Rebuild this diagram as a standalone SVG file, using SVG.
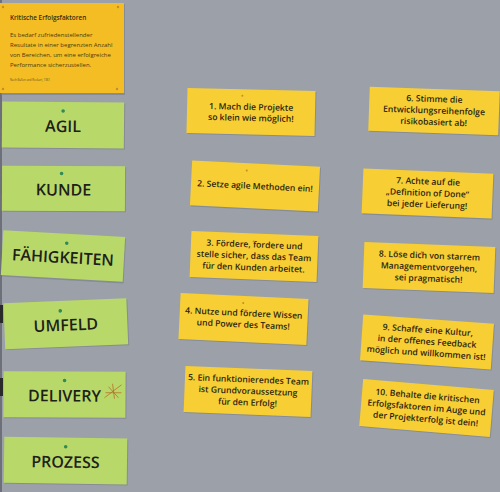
<svg xmlns="http://www.w3.org/2000/svg" width="500" height="492" viewBox="0 0 500 492">
<style>
.bg{fill:#9ca0a9}
.shadow{fill:#7f838c;opacity:.7}
.yc{fill:#f7cf35}
.oc{fill:#f4bd24}
.gc{fill:#b8d96a}
.gt{font-family:"Open Sans","DejaVu Sans",sans-serif;font-weight:600;font-size:16px;fill:#1d2117;text-anchor:middle}
.yt{font-family:"Open Sans","DejaVu Sans",sans-serif;font-weight:600;font-size:8.6px;fill:#2c2410;text-anchor:middle}
.ht{font-family:"Open Sans","DejaVu Sans",sans-serif;font-weight:600;font-size:6.4px;fill:#3a2d0c}
.bt{font-family:"Open Sans","DejaVu Sans",sans-serif;font-size:6px;fill:#4a3a12}
.ct{font-family:"Open Sans","DejaVu Sans",sans-serif;font-size:2.8px;fill:#6a5420}
.pin{fill:#2f8a55}
.opin{fill:#c98a30}
</style>
<rect class="bg" x="0" y="0" width="500" height="492"/>
<rect x="0" y="0" width="2" height="492" fill="#6d7078"/>
<rect x="0" y="305" width="3" height="18" fill="#2a2a2a"/>
<rect x="0" y="378" width="3" height="18" fill="#2a2a2a"/>

<g id="header">
<rect class="shadow" x="1" y="4" width="124" height="91"/>
<rect class="oc" x="0" y="3" width="124" height="90"/>
<circle class="opin" cx="3" cy="7" r="1.2"/><circle class="opin" cx="118" cy="7" r="1.2"/>
<circle class="opin" cx="3" cy="89" r="1.2"/><circle class="opin" cx="117" cy="89" r="1.2"/>
<text class="ht" x="10" y="20">Kritische Erfolgsfaktoren</text>
<text class="bt" x="10" y="37">Es bedarf zufriedenstellender</text>
<text class="bt" x="10" y="47">Resultate in einer begrenzten Anzahl</text>
<text class="bt" x="10" y="57">von Bereichen, um eine erfolgreiche</text>
<text class="bt" x="10" y="67">Performance sicherzustellen.</text>
<text class="ct" x="10" y="81">Nach Bullen und Rockart, 1981</text>
</g>

<g id="agil" transform="translate(63,125) rotate(0.5)">
<rect class="shadow" x="-60" y="-22" width="122" height="46"/>
<rect class="gc" x="-61" y="-23" width="122" height="46"/>
<circle class="pin" cx="0" cy="-14" r="1.8"/>
<text class="gt" x="0" y="7">AGIL</text>
</g>
<g id="kunde" transform="translate(63.5,188.5) rotate(0.3)">
<rect class="shadow" x="-60.5" y="-21.5" width="123" height="45"/>
<rect class="gc" x="-61.5" y="-22.5" width="123" height="45"/>
<circle class="pin" cx="-2" cy="-15" r="1.8"/>
<text class="gt" x="0" y="7">KUNDE</text>
</g>
<g id="faehigkeiten" transform="translate(63,256) rotate(3.2)">
<rect class="shadow" x="-60" y="-21" width="122" height="45"/>
<rect class="gc" x="-61" y="-22.5" width="122" height="45"/>
<circle class="pin" cx="3" cy="-13" r="1.8"/>
<text class="gt" x="0" y="7">FÄHIGKEITEN</text>
</g>
<g id="umfeld" transform="translate(65.8,323.7) rotate(-2.3)">
<rect class="shadow" x="-60.5" y="-22" width="123" height="46"/>
<rect class="gc" x="-61.5" y="-23" width="123" height="46"/>
<circle class="pin" cx="-5" cy="-13" r="1.8"/>
<text class="gt" x="0" y="7">UMFELD</text>
</g>
<g id="delivery" transform="translate(64.5,394.5) rotate(0.3)">
<rect class="shadow" x="-60" y="-22" width="122" height="46"/>
<rect class="gc" x="-61" y="-23" width="122" height="46"/>
<circle class="pin" cx="0" cy="-14" r="1.8"/>
<text class="gt" x="0" y="7">DELIVERY</text>
<g stroke="#b5702a" stroke-width="0.8" fill="none">
<path d="M40,3 L57,-10 M44,-8 L54,3 M48,-11 L50,4 M41,-2 L57,-2"/>
</g>
</g>
<g id="prozess" transform="translate(65.5,460.7) rotate(0.8)">
<rect class="shadow" x="-60.5" y="-22" width="123" height="46"/>
<rect class="gc" x="-61.5" y="-23" width="123" height="46"/>
<circle class="pin" cx="0" cy="-14" r="1.8"/>
<text class="gt" x="0" y="7">PROZESS</text>
</g>

<g id="card1" transform="translate(251,112) rotate(1.3)">
<rect class="shadow" x="-63" y="-21.5" width="128" height="45"/>
<rect class="yc" x="-64" y="-22.5" width="128" height="45"/>
<circle class="opin" cx="-9" cy="-16" r="1"/>
<text class="yt" x="0" y="-2">1. Mach die Projekte</text>
<text class="yt" x="0" y="9">so klein wie möglich!</text>
</g>
<g id="card2" transform="translate(255,186) rotate(2.8)">
<rect class="shadow" x="-63" y="-21.5" width="128" height="45"/>
<rect class="yc" x="-64" y="-22.5" width="128" height="45"/>
<circle class="opin" cx="-9" cy="-15" r="1"/>
<text class="yt" x="0" y="3">2. Setze agile Methoden ein!</text>
</g>
<g id="card3" transform="translate(254,256.5) rotate(2.3)">
<rect class="shadow" x="-62.5" y="-22" width="127" height="46"/>
<rect class="yc" x="-63.5" y="-23" width="127" height="46"/>
<circle class="opin" cx="-1" cy="-15" r="0.9"/>
<text class="yt" x="0" y="-9">3. Fördere, fordere und</text>
<text class="yt" x="0" y="2.5">stelle sicher, dass das Team</text>
<text class="yt" x="0" y="14">für den Kunden arbeitet.</text>
</g>
<g id="card4" transform="translate(243.5,319) rotate(2.7)">
<rect class="shadow" x="-63" y="-22" width="128" height="46"/>
<rect class="yc" x="-64" y="-23" width="128" height="46"/>
<circle class="opin" cx="-1" cy="-16" r="1"/>
<text class="yt" x="0" y="-3">4. Nutze und fördere Wissen</text>
<text class="yt" x="0" y="8.5">und Power des Teams!</text>
</g>
<g id="card5" transform="translate(248,391.5) rotate(2.3)">
<rect class="shadow" x="-62.5" y="-22" width="127" height="46"/>
<rect class="yc" x="-63.5" y="-23" width="127" height="46"/>
<text class="yt" x="0" y="-9">5. Ein funktionierendes Team</text>
<text class="yt" x="0" y="2.5">ist Grundvoraussetzung</text>
<text class="yt" x="0" y="14">für den Erfolg!</text>
</g>

<g id="card6" transform="translate(434,111) rotate(2)">
<rect class="shadow" x="-64" y="-21" width="130" height="44"/>
<rect class="yc" x="-65" y="-22" width="130" height="44"/>
<text class="yt" x="0" y="-9">6. Stimme die</text>
<text class="yt" x="0" y="2.5">Entwicklungsreihenfolge</text>
<text class="yt" x="0" y="14">risikobasiert ab!</text>
</g>
<g id="card7" transform="translate(427.5,193.5) rotate(2.3)">
<rect class="shadow" x="-64" y="-21.5" width="130" height="45"/>
<rect class="yc" x="-65" y="-22.5" width="130" height="45"/>
<circle class="opin" cx="-1" cy="-11" r="0.9"/>
<text class="yt" x="0" y="-9">7. Achte auf die</text>
<text class="yt" x="0" y="2.5">„Definition of Done“</text>
<text class="yt" x="0" y="14">bei jeder Lieferung!</text>
</g>
<g id="card8" transform="translate(429,267.5) rotate(2.2)">
<rect class="shadow" x="-64.5" y="-22" width="131" height="46"/>
<rect class="yc" x="-65.5" y="-23" width="131" height="46"/>
<circle class="opin" cx="-8" cy="-15" r="0.9"/>
<text class="yt" x="0" y="-9">8. Löse dich von starrem</text>
<text class="yt" x="0" y="2.5">Managementvorgehen,</text>
<text class="yt" x="0" y="14">sei pragmatisch!</text>
</g>
<g id="card9" transform="translate(427,342) rotate(4)">
<rect class="shadow" x="-64.5" y="-22" width="131" height="46"/>
<rect class="yc" x="-65.5" y="-23" width="131" height="46"/>
<text class="yt" x="0" y="-9">9. Schaffe eine Kultur,</text>
<text class="yt" x="0" y="2.5">in der offenes Feedback</text>
<text class="yt" x="0" y="14">möglich und willkommen ist!</text>
</g>
<g id="card10" transform="translate(426.5,408) rotate(4.8)">
<rect class="shadow" x="-64.5" y="-22.5" width="131" height="47"/>
<rect class="yc" x="-65.5" y="-23.5" width="131" height="47"/>
<text class="yt" x="0" y="-9">10. Behalte die kritischen</text>
<text class="yt" x="0" y="2.5">Erfolgsfaktoren im Auge und</text>
<text class="yt" x="0" y="14">der Projekterfolg ist dein!</text>
</g>
</svg>
